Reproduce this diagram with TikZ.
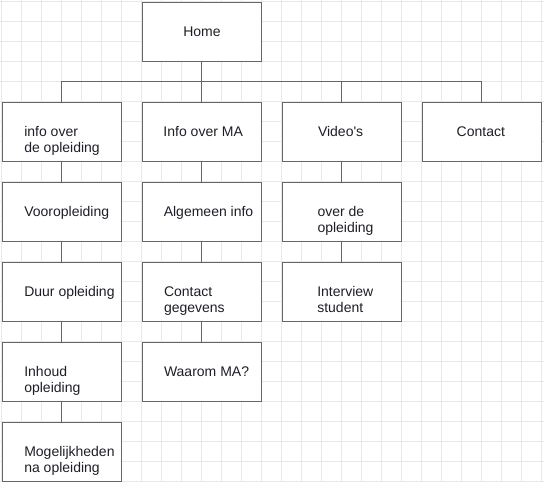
\documentclass[tikz,border=0pt]{standalone}
\usepackage{fontspec}
\setmainfont{Liberation Sans}
\newfontfamily\plainf{Liberation Sans}
\definecolor{gridc}{RGB}{222,235,243}
\definecolor{edgec}{RGB}{102,102,102}
\definecolor{txtc}{RGB}{30,30,40}
\begin{document}
\begin{tikzpicture}[x=0.75pt,y=-0.75pt,
  box/.style={draw=edgec,fill=white,line width=0.75pt,minimum width=89.25pt,minimum height=44.25pt,inner sep=0pt,outer sep=0pt},
  lbl/.style={anchor=base west,inner sep=0pt,outer sep=0pt,align=left,text=txtc,font={\plainf\fontsize{10.5}{11.8}\selectfont}},
  conn/.style={draw=edgec,line width=0.75pt}]
\useasboundingbox (0,0) rectangle (544,482);
\fill[white] (0,0) rectangle (544,482);
\foreach \g in {1.5,21.5,...,541.5} \draw[gridc,line width=0.75pt] (\g,0) -- (\g,482);
\foreach \g in {1.5,21.5,...,481.5} \draw[gridc,line width=0.75pt] (0,\g) -- (544,\g);
% boxes
\node[box] (home) at (201.5,31.5) {};
\node[box] (a1) at (61.5,131.5) {};
\node[box] (a2) at (61.5,211.5) {};
\node[box] (a3) at (61.5,291.5) {};
\node[box] (a4) at (61.5,371.5) {};
\node[box] (a5) at (61.5,451.5) {};
\node[box] (b1) at (201.5,131.5) {};
\node[box] (b2) at (201.5,211.5) {};
\node[box] (b3) at (201.5,291.5) {};
\node[box] (b4) at (201.5,371.5) {};
\node[box] (c1) at (341.5,131.5) {};
\node[box] (c2) at (341.5,211.5) {};
\node[box] (c3) at (341.5,291.5) {};
\node[box] (d1) at (481.5,131.5) {};
% labels (multi-line labels anchored at baseline of last line)
\node[lbl] (thome) at (183.3,36.5) {Home};
\node[lbl] (ta1) at (24.3,152.2) {info over\\de opleiding};
\node[lbl] (ta2) at (24.3,216.5) {Vooropleiding};
\node[lbl] (ta3) at (24.3,296.5) {Duur opleiding};
\node[lbl] (ta4) at (24.3,392.2) {Inhoud\\opleiding};
\node[lbl] (ta5) at (24.3,472.2) {Mogelijkheden\\na opleiding};
\node[lbl] (tb1) at (163.5,136.5) {Info over MA};
\node[lbl] (tb2) at (163.8,216.5) {Algemeen info};
\node[lbl] (tb3) at (164,312.2) {Contact\\gegevens};
\node[lbl] (tb4) at (164,376.5) {Waarom MA?};
\node[lbl] (tc1) at (318,136.5) {Video's};
\node[lbl] (tc2) at (317.5,232.2) {over de\\opleiding};
\node[lbl] (tc3) at (317.3,312.2) {Interview\\student};
\node[lbl] (td1) at (456.7,136.5) {Contact};
% connectors
\coordinate (bus) at (201.5,81.5);
\draw[conn] (home.south) -- (bus);
\draw[conn] (bus) -| (a1.north);
\draw[conn] (bus) -- (b1.north);
\draw[conn] (bus) -| (c1.north);
\draw[conn] (bus) -| (d1.north);
\draw[conn] (a1) -- (a2);
\draw[conn] (a2) -- (a3);
\draw[conn] (a3) -- (a4);
\draw[conn] (a4) -- (a5);
\draw[conn] (b1) -- (b2);
\draw[conn] (b2) -- (b3);
\draw[conn] (b3) -- (b4);
\draw[conn] (c1) -- (c2);
\draw[conn] (c2) -- (c3);
\end{tikzpicture}
\end{document}
